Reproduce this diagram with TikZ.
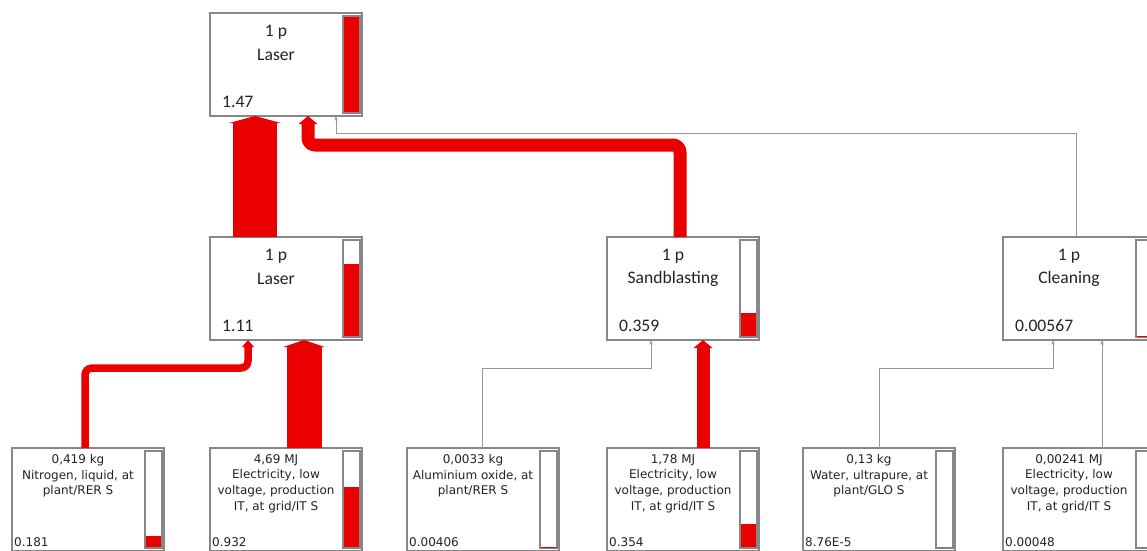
\documentclass[tikz,border=0pt]{standalone}
\usepackage{fontspec}
\setmainfont{Carlito}
\newfontfamily\smallfont{DejaVu Sans}
\usetikzlibrary{calc,arrows.meta}
\definecolor{lcared}{RGB}{234,0,0}
\definecolor{boxgrey}{RGB}{135,135,135}
\definecolor{txtgrey}{RGB}{35,35,35}
\definecolor{thingrey}{RGB}{150,150,150}
\tikzset{
 procbox/.style={draw=boxgrey, line width=1.4pt, fill=white, minimum width=152pt, minimum height=103pt, anchor=north west, inner sep=0pt, outer sep=0pt},
 barframe/.style={draw=boxgrey, line width=1.2pt, fill=white},
 barfill/.style={fill=lcared},
 bigtxt/.style={font=\fontsize{17.6}{20}\selectfont, text=txtgrey, inner sep=0pt},
 smalltxt/.style={font=\smallfont\fontsize{12}{15.7}\selectfont, text=txtgrey, inner sep=0pt, align=center},
 smallval/.style={font=\smallfont\fontsize{12}{15.7}\selectfont, text=txtgrey, inner sep=0pt},
 redflow/.style={draw=lcared, line join=round, rounded corners=7pt},
 thinflow/.style={draw=thingrey, line width=1pt, -{Stealth[length=4.5pt,width=3.5pt]}},
}
\newcommand{\mkbar}[2]{%
  \draw[barframe] ($(#1.north east)+(-19,3)$) rectangle ($(#1.south east)+(-2,-3)$);
  \fill[barfill] ($(#1.south east)+(-18,-3.6)$) rectangle ($(#1.south east)+(-3,{-3.6-#2*95.8})$);
}
\newcommand{\mkbig}[6]{%
  \node[procbox] (#1) at (#2,#3) {};
  \mkbar{#1}{#6}
  \node[bigtxt] (#1q) at ($(#1.north west)+(66,19)$) {1 p};
  \node[bigtxt] (#1l) at ($(#1.north west)+(66,42)$) {#4};
  \node[bigtxt, anchor=base west] (#1v) at ($(#1.south west)+(12,-9)$) {#5};
}
\newcommand{\mksmall}[6]{%
  \node[procbox] (#1) at (#2,#3) {};
  \mkbar{#1}{#6}
  \node[smalltxt, anchor=north] (#1t) at ($(#1.north west)+(66,6)$) {#4};
  \node[smallval, anchor=base west] (#1v) at ($(#1.south west)+(2,-5)$) {#5};
}
\begin{document}
\begin{tikzpicture}[x=1pt,y=-1pt]
\useasboundingbox (0,0) rectangle (1147,550);
\clip (0,0) rectangle (1147,550);
\fill[white] (0,0) rectangle (1147,550);

\mkbig{top}{210}{13}{Laser}{1.47}{1}
\mkbig{mid}{210}{237}{Laser}{1.11}{0.755}
\mkbig{sand}{607}{237}{Sandblasting}{0.359}{0.244}
\mkbig{clean}{1003}{237}{Cleaning}{0.00567}{0.004}

\mksmall{nit}{12}{448}{0,419 kg\\Nitrogen, liquid, at\\plant/RER S}{0.181}{0.123}
\mksmall{ela}{210}{448}{4,69 MJ\\Electricity, low\\voltage, production\\IT, at grid/IT S}{0.932}{0.634}
\mksmall{alu}{407}{448}{0,0033 kg\\Aluminium oxide, at\\plant/RER S}{0.00406}{0.003}
\mksmall{elb}{607}{448}{1,78 MJ\\Electricity, low\\voltage, production\\IT, at grid/IT S}{0.354}{0.241}
\mksmall{wat}{803}{448}{0,13 kg\\Water, ultrapure, at\\plant/GLO S}{8.76E-5}{0}
\mksmall{elc}{1003}{448}{0,00241 MJ\\Electricity, low\\voltage, production\\IT, at grid/IT S}{0.00048}{0}

% levels
\coordinate (lvlsand) at (0,145);
\coordinate (lvlclean) at (0,133);
\coordinate (lvlbot) at (0,368);

% ports
\coordinate (midout) at ($(mid.north west)+(45,0)$);
\coordinate (topinA) at ($(top.south west)+(45,0)$);
\coordinate (sandout) at ($(sand.north west)+(73,0)$);
\coordinate (topinB) at ($(top.south west)+(98,0)$);
\coordinate (cleanout) at ($(clean.north west)+(73,0)$);
\coordinate (topinC) at ($(top.south west)+(126,0)$);
\coordinate (nitout) at ($(nit.north west)+(73,0)$);
\coordinate (midinA) at ($(mid.south west)+(38,0)$);
\coordinate (elaout) at ($(ela.north west)+(94,0)$);
\coordinate (midinB) at ($(mid.south west)+(94,0)$);
\coordinate (aluout) at ($(alu.north west)+(75,0)$);
\coordinate (sandinA) at ($(sand.south west)+(44,0)$);
\coordinate (elbout) at ($(elb.north west)+(96,0)$);
\coordinate (sandinB) at ($(sand.south west)+(96,0)$);
\coordinate (watout) at ($(wat.north west)+(76,0)$);
\coordinate (cleaninA) at ($(clean.south west)+(50,0)$);
\coordinate (elcout) at ($(elc.north west)+(99,0)$);
\coordinate (cleaninB) at ($(clean.south west)+(99,0)$);

% red flows
\draw[redflow, line width=44pt, -{Triangle[length=7pt,width=52pt,line width=0pt 0 0]}] (midout) -- (topinA);
\draw[redflow, line width=13pt, -{Triangle[length=8pt,width=19pt,line width=0pt 0 0]}] (sandout) -- (sandout |- lvlsand) -- (topinB |- lvlsand) -- (topinB);
\draw[redflow, line width=7.5pt, -{Triangle[length=7pt,width=12pt,line width=0pt 0 0]}] (nitout) -- (nitout |- lvlbot) -- (midinA |- lvlbot) -- (midinA);
\draw[redflow, line width=35pt, -{Triangle[length=7pt,width=42pt,line width=0pt 0 0]}] (elaout) -- (midinB);
\draw[redflow, line width=13pt, -{Triangle[length=8pt,width=19pt,line width=0pt 0 0]}] (elbout) -- (sandinB);

% thin flows
\draw[thinflow] (cleanout) -- (cleanout |- lvlclean) -- (topinC |- lvlclean) -- (topinC);
\draw[thinflow] (aluout) -- (aluout |- lvlbot) -- (sandinA |- lvlbot) -- (sandinA);
\draw[thinflow] (watout) -- (watout |- lvlbot) -- (cleaninA |- lvlbot) -- (cleaninA);
\draw[thinflow] (elcout) -- (cleaninB);
\end{tikzpicture}
\end{document}
